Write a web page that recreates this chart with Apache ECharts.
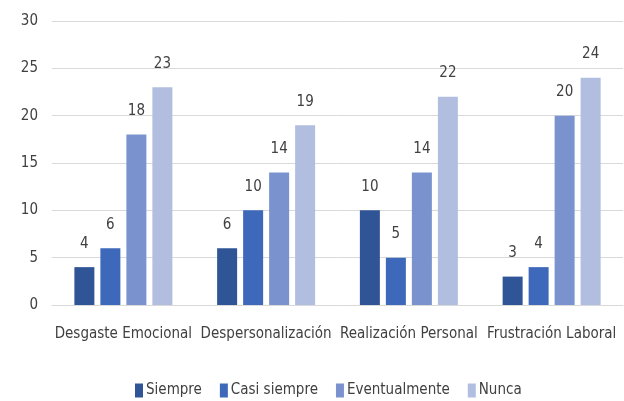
<!DOCTYPE html>
<html><head><meta charset="utf-8">
<script src="https://cdn.jsdelivr.net/npm/echarts@6/dist/echarts.min.js"></script>
<style>html,body{margin:0;padding:0;background:#fff}#c{width:624px;height:401px}</style>
</head><body><div id="c"></div>
<script>
var categories = ['Desgaste Emocional', 'Despersonalización', 'Realización Personal', 'Frustración Laboral'];
var seriesNames = ['Siempre', 'Casi siempre', 'Eventualmente', 'Nunca'];
var siempre = [4, 6, 10, 3];
var casiSiempre = [6, 10, 5, 4];
var eventualmente = [18, 14, 14, 20];
var nunca = [23, 19, 22, 24];
var yTicks = [0, 5, 10, 15, 20, 25, 30];

var colors = ['#2F5597', '#3E68BA', '#7A93CF', '#B2BEE0'];
var font = '"Liberation Sans Narrow", "DejaVu Sans Condensed", "Roboto Condensed", sans-serif';
var values = [siempre, casiSiempre, eventualmente, nunca];
var chart = echarts.init(document.getElementById('c'));
chart.setOption({
  animation: false,
  color: colors,
  textStyle: {fontFamily: font},
  grid: {left: 52, right: 1, top: 21, bottom: 96, containLabel: false},
  legend: {
    top: 383, left: 135, padding: 0, itemWidth: 8, itemHeight: 14, itemGap: 18, icon: 'rect',
    textStyle: {fontFamily: font, fontSize: 15, color: '#404040', padding: [0, 0, 0, -2]},
    data: seriesNames
  },
  xAxis: {
    type: 'category', data: categories,
    axisLine: {lineStyle: {color: '#D9D9D9'}}, axisTick: {show: false},
    axisLabel: {interval: 0, fontFamily: font, fontSize: 15, color: '#404040', margin: 22}
  },
  yAxis: {
    type: 'value', min: yTicks[0], max: yTicks[yTicks.length - 1], interval: 5,
    axisLine: {show: false}, axisTick: {show: false},
    splitLine: {lineStyle: {color: '#D9D9D9', width: 1}},
    axisLabel: {fontFamily: font, fontSize: 15, color: '#404040', margin: 14}
  },
  series: seriesNames.map(function (n, i) {
    return {
      name: n, type: 'bar', data: values[i], barWidth: 20, barGap: '30%',
      label: {show: true, position: 'top', distance: 16, fontFamily: font, fontSize: 15, color: '#404040'}
    };
  })
});
</script></body></html>
